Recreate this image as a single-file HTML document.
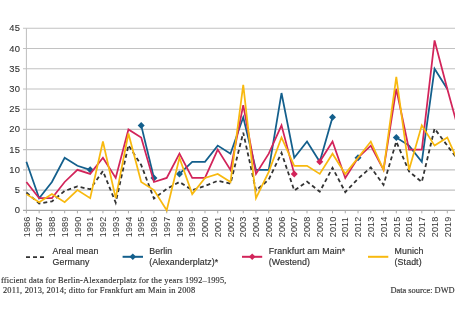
<!DOCTYPE html>
<html><head><meta charset="utf-8"><style>
html,body{margin:0;padding:0;background:#fff;}
body{width:455px;height:314px;overflow:hidden;}
svg{display:block;will-change:transform;}
.yl{font-family:"Liberation Sans",sans-serif;font-size:9.4px;letter-spacing:0.3px;fill:#333;stroke:#333;stroke-width:0.12px;}
.xl{font-family:"Liberation Sans",sans-serif;font-size:9.1px;letter-spacing:0.15px;fill:#333;}
.lg{font-family:"Liberation Sans",sans-serif;font-size:8.8px;fill:#333;stroke:#333;stroke-width:0.18px;letter-spacing:0.1px;}
.ft{font-family:"Liberation Serif",serif;font-size:8.4px;fill:#333;stroke:#333;stroke-width:0.15px;letter-spacing:0.17px;}
</style></head><body>
<svg width="455" height="314" viewBox="0 0 455 314">
<line x1="23" y1="210.30" x2="455" y2="210.30" stroke="#a6a6a6" stroke-width="1.15"/>
<text x="20.3" y="213.30" text-anchor="end" class="yl">0</text>
<line x1="23" y1="190.08" x2="455" y2="190.08" stroke="#c2c2c2" stroke-width="1.1"/>
<text x="20.3" y="193.08" text-anchor="end" class="yl">5</text>
<line x1="23" y1="169.86" x2="455" y2="169.86" stroke="#c2c2c2" stroke-width="1.1"/>
<text x="20.3" y="172.86" text-anchor="end" class="yl">10</text>
<line x1="23" y1="149.64" x2="455" y2="149.64" stroke="#c2c2c2" stroke-width="1.1"/>
<text x="20.3" y="152.64" text-anchor="end" class="yl">15</text>
<line x1="23" y1="129.42" x2="455" y2="129.42" stroke="#c2c2c2" stroke-width="1.1"/>
<text x="20.3" y="132.42" text-anchor="end" class="yl">20</text>
<line x1="23" y1="109.20" x2="455" y2="109.20" stroke="#c2c2c2" stroke-width="1.1"/>
<text x="20.3" y="112.20" text-anchor="end" class="yl">25</text>
<line x1="23" y1="88.98" x2="455" y2="88.98" stroke="#c2c2c2" stroke-width="1.1"/>
<text x="20.3" y="91.98" text-anchor="end" class="yl">30</text>
<line x1="23" y1="68.76" x2="455" y2="68.76" stroke="#c2c2c2" stroke-width="1.1"/>
<text x="20.3" y="71.76" text-anchor="end" class="yl">35</text>
<line x1="23" y1="48.54" x2="455" y2="48.54" stroke="#c2c2c2" stroke-width="1.1"/>
<text x="20.3" y="51.54" text-anchor="end" class="yl">40</text>
<line x1="23" y1="28.32" x2="455" y2="28.32" stroke="#c2c2c2" stroke-width="1.1"/>
<text x="20.3" y="31.32" text-anchor="end" class="yl">45</text>
<line x1="26.40" y1="28.32" x2="26.40" y2="210.30" stroke="#bdbdbd" stroke-width="1"/>
<line x1="26.40" y1="210.30" x2="26.40" y2="213.30" stroke="#aaaaaa" stroke-width="1"/>
<text transform="translate(29.60,237.3) rotate(-90)" class="xl">1986</text>
<line x1="39.16" y1="210.30" x2="39.16" y2="213.30" stroke="#aaaaaa" stroke-width="1"/>
<text transform="translate(42.36,237.3) rotate(-90)" class="xl">1987</text>
<line x1="51.91" y1="210.30" x2="51.91" y2="213.30" stroke="#aaaaaa" stroke-width="1"/>
<text transform="translate(55.11,237.3) rotate(-90)" class="xl">1988</text>
<line x1="64.66" y1="210.30" x2="64.66" y2="213.30" stroke="#aaaaaa" stroke-width="1"/>
<text transform="translate(67.86,237.3) rotate(-90)" class="xl">1989</text>
<line x1="77.42" y1="210.30" x2="77.42" y2="213.30" stroke="#aaaaaa" stroke-width="1"/>
<text transform="translate(80.62,237.3) rotate(-90)" class="xl">1990</text>
<line x1="90.18" y1="210.30" x2="90.18" y2="213.30" stroke="#aaaaaa" stroke-width="1"/>
<text transform="translate(93.38,237.3) rotate(-90)" class="xl">1991</text>
<line x1="102.93" y1="210.30" x2="102.93" y2="213.30" stroke="#aaaaaa" stroke-width="1"/>
<text transform="translate(106.13,237.3) rotate(-90)" class="xl">1992</text>
<line x1="115.69" y1="210.30" x2="115.69" y2="213.30" stroke="#aaaaaa" stroke-width="1"/>
<text transform="translate(118.89,237.3) rotate(-90)" class="xl">1993</text>
<line x1="128.44" y1="210.30" x2="128.44" y2="213.30" stroke="#aaaaaa" stroke-width="1"/>
<text transform="translate(131.64,237.3) rotate(-90)" class="xl">1994</text>
<line x1="141.19" y1="210.30" x2="141.19" y2="213.30" stroke="#aaaaaa" stroke-width="1"/>
<text transform="translate(144.39,237.3) rotate(-90)" class="xl">1995</text>
<line x1="153.95" y1="210.30" x2="153.95" y2="213.30" stroke="#aaaaaa" stroke-width="1"/>
<text transform="translate(157.15,237.3) rotate(-90)" class="xl">1996</text>
<line x1="166.71" y1="210.30" x2="166.71" y2="213.30" stroke="#aaaaaa" stroke-width="1"/>
<text transform="translate(169.91,237.3) rotate(-90)" class="xl">1997</text>
<line x1="179.46" y1="210.30" x2="179.46" y2="213.30" stroke="#aaaaaa" stroke-width="1"/>
<text transform="translate(182.66,237.3) rotate(-90)" class="xl">1998</text>
<line x1="192.22" y1="210.30" x2="192.22" y2="213.30" stroke="#aaaaaa" stroke-width="1"/>
<text transform="translate(195.41,237.3) rotate(-90)" class="xl">1999</text>
<line x1="204.97" y1="210.30" x2="204.97" y2="213.30" stroke="#aaaaaa" stroke-width="1"/>
<text transform="translate(208.17,237.3) rotate(-90)" class="xl">2000</text>
<line x1="217.73" y1="210.30" x2="217.73" y2="213.30" stroke="#aaaaaa" stroke-width="1"/>
<text transform="translate(220.93,237.3) rotate(-90)" class="xl">2001</text>
<line x1="230.48" y1="210.30" x2="230.48" y2="213.30" stroke="#aaaaaa" stroke-width="1"/>
<text transform="translate(233.68,237.3) rotate(-90)" class="xl">2002</text>
<line x1="243.24" y1="210.30" x2="243.24" y2="213.30" stroke="#aaaaaa" stroke-width="1"/>
<text transform="translate(246.44,237.3) rotate(-90)" class="xl">2003</text>
<line x1="255.99" y1="210.30" x2="255.99" y2="213.30" stroke="#aaaaaa" stroke-width="1"/>
<text transform="translate(259.19,237.3) rotate(-90)" class="xl">2004</text>
<line x1="268.75" y1="210.30" x2="268.75" y2="213.30" stroke="#aaaaaa" stroke-width="1"/>
<text transform="translate(271.94,237.3) rotate(-90)" class="xl">2005</text>
<line x1="281.50" y1="210.30" x2="281.50" y2="213.30" stroke="#aaaaaa" stroke-width="1"/>
<text transform="translate(284.70,237.3) rotate(-90)" class="xl">2006</text>
<line x1="294.25" y1="210.30" x2="294.25" y2="213.30" stroke="#aaaaaa" stroke-width="1"/>
<text transform="translate(297.45,237.3) rotate(-90)" class="xl">2007</text>
<line x1="307.01" y1="210.30" x2="307.01" y2="213.30" stroke="#aaaaaa" stroke-width="1"/>
<text transform="translate(310.21,237.3) rotate(-90)" class="xl">2008</text>
<line x1="319.76" y1="210.30" x2="319.76" y2="213.30" stroke="#aaaaaa" stroke-width="1"/>
<text transform="translate(322.96,237.3) rotate(-90)" class="xl">2009</text>
<line x1="332.52" y1="210.30" x2="332.52" y2="213.30" stroke="#aaaaaa" stroke-width="1"/>
<text transform="translate(335.72,237.3) rotate(-90)" class="xl">2010</text>
<line x1="345.27" y1="210.30" x2="345.27" y2="213.30" stroke="#aaaaaa" stroke-width="1"/>
<text transform="translate(348.47,237.3) rotate(-90)" class="xl">2011</text>
<line x1="358.03" y1="210.30" x2="358.03" y2="213.30" stroke="#aaaaaa" stroke-width="1"/>
<text transform="translate(361.23,237.3) rotate(-90)" class="xl">2012</text>
<line x1="370.79" y1="210.30" x2="370.79" y2="213.30" stroke="#aaaaaa" stroke-width="1"/>
<text transform="translate(373.99,237.3) rotate(-90)" class="xl">2013</text>
<line x1="383.54" y1="210.30" x2="383.54" y2="213.30" stroke="#aaaaaa" stroke-width="1"/>
<text transform="translate(386.74,237.3) rotate(-90)" class="xl">2014</text>
<line x1="396.30" y1="210.30" x2="396.30" y2="213.30" stroke="#aaaaaa" stroke-width="1"/>
<text transform="translate(399.50,237.3) rotate(-90)" class="xl">2015</text>
<line x1="409.05" y1="210.30" x2="409.05" y2="213.30" stroke="#aaaaaa" stroke-width="1"/>
<text transform="translate(412.25,237.3) rotate(-90)" class="xl">2016</text>
<line x1="421.81" y1="210.30" x2="421.81" y2="213.30" stroke="#aaaaaa" stroke-width="1"/>
<text transform="translate(425.00,237.3) rotate(-90)" class="xl">2017</text>
<line x1="434.56" y1="210.30" x2="434.56" y2="213.30" stroke="#aaaaaa" stroke-width="1"/>
<text transform="translate(437.76,237.3) rotate(-90)" class="xl">2018</text>
<line x1="447.31" y1="210.30" x2="447.31" y2="213.30" stroke="#aaaaaa" stroke-width="1"/>
<text transform="translate(450.51,237.3) rotate(-90)" class="xl">2019</text>
<line x1="460.07" y1="210.30" x2="460.07" y2="213.30" stroke="#aaaaaa" stroke-width="1"/>
<text transform="translate(463.27,237.3) rotate(-90)" class="xl">2020</text>

<polyline points="26.40,192.51 39.16,203.43 51.91,201.40 64.66,190.89 77.42,186.44 90.18,189.27 102.93,171.07 115.69,202.62 128.44,145.19 141.19,165.01 153.95,198.57 166.71,188.87 179.46,181.99 192.22,190.08 204.97,186.04 217.73,180.78 230.48,183.61 243.24,132.66 255.99,190.48 268.75,179.57 281.50,152.88 294.25,190.48 307.01,181.59 319.76,191.70 332.52,167.84 345.27,192.10 358.03,178.76 370.79,167.43 383.54,184.82 396.30,141.55 409.05,171.48 421.81,181.99 434.56,128.61 447.31,145.60 460.07,162.58" fill="none" stroke="#333333" stroke-width="1.8" stroke-dasharray="4 3"/>
<polyline points="26.40,161.77 39.16,198.17 51.91,181.99 64.66,157.73 77.42,165.82 90.18,169.86" fill="none" stroke="#135f8c" stroke-width="1.75" stroke-linejoin="miter"/>
<polyline points="141.19,125.38 153.95,177.95" fill="none" stroke="#135f8c" stroke-width="1.75" stroke-linejoin="miter"/>
<polyline points="179.46,173.90 192.22,161.77 204.97,161.77 217.73,145.60 230.48,153.68 243.24,117.29 255.99,169.86 268.75,169.86 281.50,93.02 294.25,157.73 307.01,141.55 319.76,161.77 332.52,117.29" fill="none" stroke="#135f8c" stroke-width="1.75" stroke-linejoin="miter"/>
<polyline points="396.30,137.51 409.05,145.60 421.81,161.77 434.56,68.76 447.31,88.98" fill="none" stroke="#135f8c" stroke-width="1.75" stroke-linejoin="miter"/>
<path d="M90.18 166.36L93.68 169.86L90.18 173.36L86.68 169.86Z" fill="#135f8c"/>
<path d="M141.19 121.88L144.69 125.38L141.19 128.88L137.69 125.38Z" fill="#135f8c"/>
<path d="M153.95 174.45L157.45 177.95L153.95 181.45L150.45 177.95Z" fill="#135f8c"/>
<path d="M179.46 170.40L182.96 173.90L179.46 177.40L175.96 173.90Z" fill="#135f8c"/>
<path d="M332.52 113.79L336.02 117.29L332.52 120.79L329.02 117.29Z" fill="#135f8c"/>
<path d="M358.03 154.23L361.53 157.73L358.03 161.23L354.53 157.73Z" fill="#135f8c"/>
<path d="M396.30 134.01L399.80 137.51L396.30 141.01L392.80 137.51Z" fill="#135f8c"/>
<polyline points="26.40,181.99 39.16,198.17 51.91,198.17 64.66,181.99 77.42,169.86 90.18,173.90 102.93,157.73 115.69,177.95 128.44,129.42 141.19,137.51 153.95,181.99 166.71,177.95 179.46,153.68 192.22,177.95 204.97,177.95 217.73,149.64 230.48,169.86 243.24,105.16 255.99,173.90 268.75,153.68 281.50,125.38 294.25,173.90" fill="none" stroke="#d2245a" stroke-width="1.75" stroke-linejoin="miter"/>
<polyline points="319.76,161.77 332.52,141.55 345.27,177.95 358.03,157.73 370.79,145.60 383.54,169.86 396.30,88.98 409.05,149.64 421.81,149.64 434.56,40.45 447.31,88.98 460.07,135.49" fill="none" stroke="#d2245a" stroke-width="1.75" stroke-linejoin="miter"/>
<path d="M294.25 170.40L297.75 173.90L294.25 177.40L290.75 173.90Z" fill="#d2245a"/>
<path d="M319.76 158.27L323.26 161.77L319.76 165.27L316.26 161.77Z" fill="#d2245a"/>
<polyline points="26.40,194.12 39.16,202.21 51.91,194.12 64.66,202.21 77.42,190.08 90.18,198.17 102.93,141.55 115.69,198.17 128.44,133.46 141.19,181.99 153.95,190.08 166.71,210.30 179.46,157.73 192.22,194.12 204.97,177.95 217.73,173.90 230.48,181.99 243.24,84.94 255.99,198.17 268.75,171.88 281.50,137.51 294.25,165.82 307.01,165.82 319.76,173.90 332.52,153.68 345.27,173.90 358.03,157.73 370.79,141.55 383.54,169.86 396.30,76.85 409.05,169.86 421.81,125.38 434.56,145.60 447.31,137.51 460.07,165.82" fill="none" stroke="#f8b90f" stroke-width="1.75" stroke-linejoin="miter"/>


<line x1="26" y1="257.1" x2="44" y2="257.1" stroke="#333333" stroke-width="1.8" stroke-dasharray="4 3"/>
<text x="52.6" y="254.1" class="lg">Areal mean</text><text x="52.6" y="264.7" class="lg">Germany</text>
<line x1="122.6" y1="256.8" x2="143" y2="256.8" stroke="#135f8c" stroke-width="2"/>
<path d="M132.8 253.5L136.1 256.8L132.8 260.1L129.5 256.8Z" fill="#135f8c"/>
<text x="149.2" y="254.1" class="lg">Berlin</text><text x="149.2" y="264.7" class="lg">(Alexanderplatz)*</text>
<line x1="242" y1="256.8" x2="262.2" y2="256.8" stroke="#d2245a" stroke-width="2"/>
<path d="M252.2 253.5L255.5 256.8L252.2 260.1L248.9 256.8Z" fill="#d2245a"/>
<text x="268.7" y="254.1" class="lg">Frankfurt am Main*</text><text x="268.7" y="264.7" class="lg">(Westend)</text>
<line x1="368" y1="256.8" x2="388.3" y2="256.8" stroke="#f8b90f" stroke-width="2"/>
<text x="394.6" y="254.1" class="lg">Munich</text><text x="394.6" y="264.7" class="lg">(Stadt)</text>


<text x="1" y="283" class="ft">fficient data for Berlin-Alexanderplatz for the years 1992–1995,</text>
<text x="3" y="293" class="ft">2011, 2013, 2014; ditto for Frankfurt am Main in 2008</text>
<text x="454.6" y="293" text-anchor="end" class="ft" style="letter-spacing:0px">Data source: DWD</text>

</svg>
</body></html>
